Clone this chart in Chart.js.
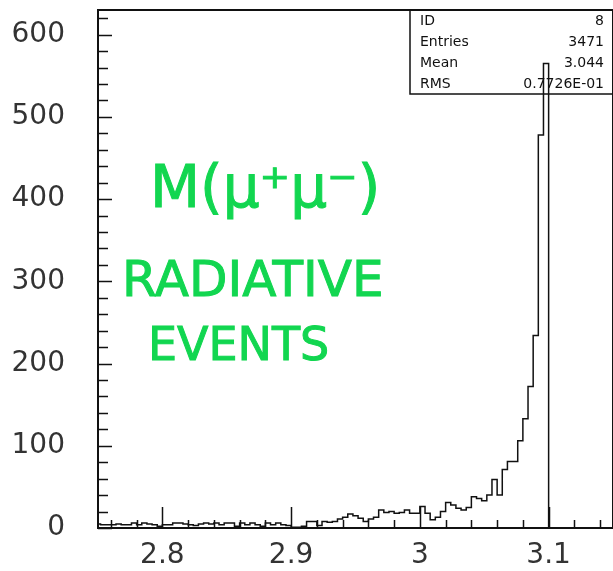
<!DOCTYPE html>
<html>
<head>
<meta charset="utf-8">
<script src="https://cdn.jsdelivr.net/npm/chart.js@4.4.1/dist/chart.umd.min.js"></script>
<style>
  body { margin: 0; background: #fff; overflow: hidden; }
  #wrap { width: 613px; height: 571px; position: relative; }
</style>
</head>
<body>
<div id="wrap"><canvas id="grafico"></canvas></div>
<script>
// Histograma M(mu+ mu-), bins de 0.004 hasta 3.1
const binStart = 2.748;
const binWidth = 0.004;
const counts = [
  5, 4, 4, 4, 5, 4, 4, 6, 4, 6, 5, 4, 2, 4, 4, 6, 6, 5, 4, 3,
  5, 6, 5, 6, 4, 6, 6, 2, 6, 4, 6, 4, 2, 6, 4, 6, 4, 3, 1, 1,
  2, 8, 8, 3, 8, 7, 8, 11, 13, 17, 15, 12, 8, 11, 13, 22, 19, 20, 18, 19,
  22, 18, 18, 26, 18, 10, 13, 20, 31, 28, 24, 22, 25, 38, 36, 33, 40, 59, 40, 71,
  81, 81, 106, 133, 172, 234, 478, 565
];

const xTickValues = [2.8, 2.9, 3.0, 3.1];
const xTickLabels = ['2.8', '2.9', '3', '3.1'];
const yTickValues = [0, 100, 200, 300, 400, 500, 600];

const statNames = ['ID', 'Entries', 'Mean', 'RMS'];
const statValues = ['8', '3471', '3.044', '0.7726E-01'];

const notas = ['M(μ⁺μ⁻)', 'RADIATIVE', 'EVENTS'];

// puntos en el borde izquierdo de cada bin, mas el cierre a cero
const puntos = counts.map((c, i) => ({ x: binStart + i * binWidth, y: c }));
puntos.push({ x: binStart + counts.length * binWidth, y: 0 });

// Marco, marcas hacia dentro, caja de estadisticas y anotaciones
const marco = {
  id: 'marco',
  afterDatasetsDraw(chart) {
    const { ctx, chartArea: a, scales: { x, y } } = chart;
    ctx.save();
    ctx.strokeStyle = '#111';
    ctx.lineWidth = 2;
    ctx.strokeRect(a.left, a.top, a.right - a.left, a.bottom - a.top);

    ctx.lineWidth = 1.5;
    ctx.beginPath();
    for (let v = 0; v <= 620; v += 20) {
      const py = Math.round(y.getPixelForValue(v)) + 0.5;
      const len = v % 100 === 0 ? 14 : 10;
      ctx.moveTo(a.left, py);
      ctx.lineTo(a.left + len, py);
    }
    for (let k = 0; k < 20; k++) {
      const v = 2.76 + 0.02 * k;
      if (v > 3.15) break;
      const px = Math.round(x.getPixelForValue(v)) + 0.5;
      const mayor = Math.abs(v * 10 - Math.round(v * 10)) < 1e-6;
      ctx.moveTo(px, a.bottom);
      ctx.lineTo(px, a.bottom - (mayor ? 21 : 8));
    }
    ctx.stroke();

    // caja de estadisticas
    ctx.lineWidth = 1.5;
    ctx.strokeRect(410, a.top, 220, 84);
    ctx.fillStyle = '#111';
    ctx.font = '14px "DejaVu Sans"';
    ctx.textBaseline = 'middle';
    statNames.forEach((n, i) => {
      const py = a.top + 11 + i * 21;
      ctx.textAlign = 'left';
      ctx.fillText(n, 420, py);
      ctx.textAlign = 'right';
      ctx.fillText(statValues[i], 604, py);
    });
    ctx.restore();
  },
  afterDraw(chart) {
    const { ctx } = chart;
    ctx.save();
    ctx.fillStyle = '#12d650';
    ctx.strokeStyle = '#12d650';
    ctx.lineWidth = 1;
    ctx.textAlign = 'left';
    ctx.textBaseline = 'alphabetic';
    ctx.font = '58px "DejaVu Sans"';
    ctx.fillText(notas[0], 150, 207, 236);
    ctx.strokeText(notas[0], 150, 207, 236);
    ctx.font = '50px "DejaVu Sans"';
    ctx.fillText(notas[1], 122, 296, 268);
    ctx.strokeText(notas[1], 122, 296, 268);
    ctx.font = '46px "DejaVu Sans"';
    ctx.fillText(notas[2], 148, 360, 192);
    ctx.strokeText(notas[2], 148, 360, 192);
    ctx.restore();
  }
};

const ctx = document.getElementById('grafico').getContext('2d');
new Chart(ctx, {
  type: 'line',
  data: {
    datasets: [{
      data: puntos,
      stepped: 'before',
      borderColor: '#111',
      borderWidth: 1.5,
      pointRadius: 0,
      fill: false
    }]
  },
  options: {
    responsive: true,
    maintainAspectRatio: false,
    animation: false,
    events: [],
    layout: { padding: { top: 10, right: 0, left: 0, bottom: 0 } },
    plugins: { legend: { display: false }, tooltip: { enabled: false } },
    scales: {
      x: {
        type: 'linear',
        min: 2.75,
        max: 3.15,
        grid: { display: false },
        border: { display: false },
        afterBuildTicks: s => { s.ticks = xTickValues.map(v => ({ value: v })); },
        afterFit: s => { s.height = 43; s.paddingLeft = 0; s.paddingRight = 0; },
        ticks: {
          autoSkip: false,
          maxRotation: 0,
          padding: 3,
          color: '#333',
          font: { family: 'DejaVu Sans', size: 28 },
          callback: (v) => xTickLabels[xTickValues.findIndex(t => Math.abs(t - v) < 1e-9)]
        }
      },
      y: {
        min: 0,
        max: 630,
        grid: { display: false },
        border: { display: false },
        afterBuildTicks: s => { s.ticks = yTickValues.map(v => ({ value: v })); },
        afterFit: s => { s.width = 98; s.paddingTop = 0; s.paddingBottom = 0; },
        ticks: {
          padding: 25,
          color: '#333',
          font: { family: 'DejaVu Sans', size: 28 }
        }
      }
    }
  },
  plugins: [marco]
});
</script>
</body>
</html>
